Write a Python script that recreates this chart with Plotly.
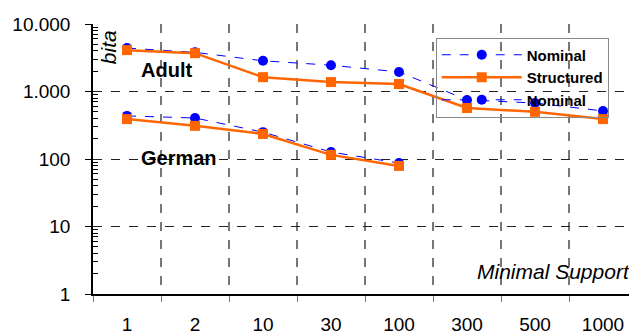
import plotly.graph_objects as go

categories = ["1", "2", "10", "30", "100", "300", "500", "1000"]
adult_nominal = [4400, 3800, 2850, 2450, 1950, 750, 675, 515]
adult_structured = [4100, 3700, 1630, 1380, 1290, 570, 500, 390]
german_nominal = [435, 405, 250, 127, 87]
german_structured = [390, 310, 235, 115, 79]
y_tickvals = [1, 10, 100, 1000, 10000]
y_ticktext = ["1", "10", "100", "1.000", "10.000"]
y_minor = [m * 10 ** d for d in range(4) for m in range(2, 10)]

BLUE = "#0000FF"
ORANGE = "#FF6600"
FONT = "Liberation Sans, Arial, sans-serif"

fig = go.Figure()

def nominal(x, y, show):
    return go.Scatter(x=x, y=y, mode="lines+markers", name="Nominal",
                      showlegend=show,
                      line=dict(color=BLUE, width=1, dash="dash"),
                      marker=dict(symbol="circle", size=10, color=BLUE))

def structured(x, y, show):
    return go.Scatter(x=x, y=y, mode="lines+markers", name="Structured",
                      showlegend=show,
                      line=dict(color=ORANGE, width=2.5),
                      marker=dict(symbol="square", size=10, color=ORANGE))

fig.add_trace(nominal(categories, adult_nominal, True))
fig.add_trace(structured(categories, adult_structured, True))
fig.add_trace(nominal(categories[:len(german_nominal)], german_nominal, True))
fig.add_trace(structured(categories[:len(german_structured)], german_structured, False))

# page body has an 8px margin, so the figure is sized to fill the rest of the window
fig.update_layout(
    width=629, height=326,
    margin=dict(l=85, r=0, t=16, b=40, autoexpand=False),
    paper_bgcolor="white", plot_bgcolor="white",
    font=dict(family=FONT, color="black"),
    legend=dict(x=0.63, y=0.95, xanchor="left", yanchor="top",
                bgcolor="rgba(255,255,255,0)", bordercolor="#888", borderwidth=1,
                font=dict(size=15, family=FONT, weight="bold"),
                tracegroupgap=0, itemwidth=80),
    xaxis=dict(type="category", categoryorder="array", categoryarray=categories,
               tickson="boundaries", showgrid=True, gridcolor="#777",
               griddash="dash", gridwidth=1.5, automargin=False,
               ticks="outside", ticklen=6, tickcolor="#777",
               showline=True, linecolor="black", linewidth=1.5,
               tickfont=dict(size=19, family=FONT), ticklabelstandoff=12,
               zeroline=False, range=[-0.5, 7.5]),
    yaxis=dict(type="log", range=[0, 4], tickvals=y_tickvals, ticktext=y_ticktext,
               showgrid=True, gridcolor="#222", griddash="dash", gridwidth=1.2,
               ticks="outside", ticklen=6, tickcolor="black", automargin=False,
               showline=True, linecolor="black", linewidth=1.5,
               tickfont=dict(size=19, family=FONT), ticklabelstandoff=11,
               minor=dict(ticks="inside", ticklen=5, tickcolor="black", showgrid=False,
                          tickmode="array", tickvals=y_minor),
               zeroline=False),
)

fig.add_annotation(text="<i>bita</i>", xref="paper", yref="paper", x=0.003, y=0.985,
                   xanchor="left", yanchor="top", textangle=-90, showarrow=False,
                   font=dict(size=21, family=FONT))
fig.add_annotation(text="<b>Adult</b>", xref="paper", yref="paper", x=0.085, y=0.83,
                   xanchor="left", yanchor="middle", showarrow=False,
                   font=dict(size=20, family=FONT))
fig.add_annotation(text="<b>German</b>", xref="paper", yref="paper", x=0.085, y=0.505,
                   xanchor="left", yanchor="middle", showarrow=False,
                   font=dict(size=20, family=FONT))
fig.add_annotation(text="<i>Minimal Support</i>", xref="paper", yref="paper", x=0.99, y=0.083,
                   xanchor="right", yanchor="middle", showarrow=False,
                   font=dict(size=21, family=FONT))

fig.write_html("out.html")
